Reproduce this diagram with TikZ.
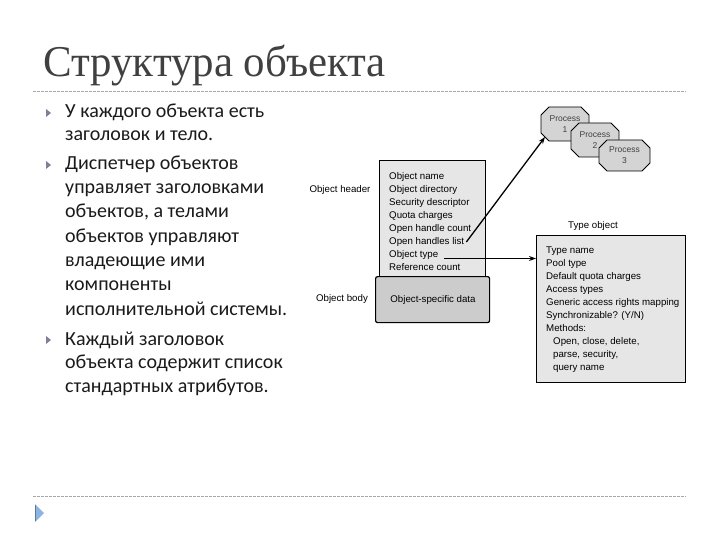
\documentclass[tikz,border=0pt]{standalone}
\usepackage{fontspec}
\setmainfont{Carlito}
\newfontfamily\titlefont{Liberation Serif}
\newfontfamily\diafont{Liberation Sans}
\usetikzlibrary{arrows.meta}
\definecolor{titlegray}{HTML}{404040}
\definecolor{textcol}{HTML}{1A1A1A}
\definecolor{rulecol}{HTML}{A6A6A6}
\definecolor{bulletcol}{HTML}{7F7F9A}
\definecolor{hdrfill}{HTML}{E6E6E6}
\definecolor{bodyfill}{HTML}{CCCCCC}
\definecolor{procfill}{HTML}{D4D4D4}
\definecolor{navlight}{HTML}{8DB3E2}
\definecolor{navdark}{HTML}{5F7893}
\tikzset{
  bline/.style={anchor=base west, inner sep=0pt, font=\fontsize{20}{24}\selectfont, text=textcol},
  dline/.style={anchor=base west, inner sep=0pt, font=\diafont\fontsize{9.7}{11}\selectfont, text=black},
  dlabel/.style={inner sep=0pt, font=\diafont\fontsize{9.7}{11}\selectfont, text=black},
  octa/.style={draw=black, line width=0.8pt, fill=procfill},
  proctext/.style={inner sep=0pt, align=center, font=\diafont\fontsize{8.5}{11}\selectfont, text=black!75},
  boxstyle/.style={draw=black, line width=1.2pt, anchor=north west, inner sep=0pt},
  rulestyle/.style={draw=rulecol, line width=0.8pt, dash pattern=on 3pt off 1pt},
  conn/.style={draw=black, line width=1.3pt, -{Stealth[length=7pt,width=5pt]}},
}
\begin{document}
\begin{tikzpicture}[x=1pt,y=-1pt]
\useasboundingbox (0,0) rectangle (720,540);

% title
\node[anchor=base west, inner sep=0pt, text=titlegray] (title) at (43,77)
  {\scalebox{0.975}[1]{\titlefont\fontsize{44}{50}\selectfont Структура объекта}};
\draw[rulestyle] (33,91) -- (686,91);
\draw[rulestyle] (33,496) -- (686,496);
\fill[navlight] (35,504) -- (44,513) -- (35,522) -- cycle;
\draw[navdark, line width=1pt] (35.5,505) -- (35.5,521);

% bullets
\fill[bulletcol] (46,109) -- (51,113) -- (46,117) -- cycle;
\fill[bulletcol] (46,161) -- (51,165) -- (46,169) -- cycle;
\fill[bulletcol] (46,336) -- (51,340) -- (46,344) -- cycle;

\node[bline] (b1a) at (65,118) {У каждого объекта есть};
\node[bline] (b1b) at (65,141) {заголовок и тело.};
\node[bline] (b2a) at (65,170) {Диспетчер объектов};
\node[bline] (b2b) at (65,194) {управляет заголовками};
\node[bline] (b2c) at (65,218) {объектов, а телами};
\node[bline] (b2d) at (65,242) {объектов управляют};
\node[bline] (b2e) at (65,266) {владеющие ими};
\node[bline] (b2f) at (65,290) {компоненты};
\node[bline] (b2g) at (65,315) {исполнительной системы.};
\node[bline] (b3a) at (65,345) {Каждый заголовок};
\node[bline] (b3b) at (65,368) {объекта содержит список};
\node[bline] (b3c) at (65,392) {стандартных атрибутов.};

% object header / body
\node[boxstyle, fill=hdrfill, minimum width=106pt, minimum height=117pt] (hdr) at (379,160) {};
\node[boxstyle, fill=bodyfill, rounded corners=2pt, minimum width=114pt, minimum height=46pt] (body) at (375,276) {};

\node[dline] (h1) at (389,179.5) {Object name};
\node[dline] (h2) at (389,192.5) {Object directory};
\node[dline] (h3) at (389,205.5) {Security descriptor};
\node[dline] (h4) at (389,218.5) {Quota charges};
\node[dline] (h5) at (389,231.5) {Open handle count};
\node[dline] (h6) at (389,244.5) {Open handles list};
\node[dline] (h7) at (389,257.5) {Object type};
\node[dline] (h8) at (389,270.5) {Reference count};
\node[dlabel] (osd) at (433,300) {Object-specific data};
\node[dlabel] (lhdr) at (340,190) {Object header};
\node[dlabel] (lbody) at (342,299) {Object body};

% type object
\node[boxstyle, fill=hdrfill, minimum width=149pt, minimum height=147pt] (tbox) at (536,235) {};
\node[dlabel] (tlabel) at (593,226) {Type object};
\node[dline] (t1) at (546,253.5) {Type name};
\node[dline] (t2) at (546,266.5) {Pool type};
\node[dline] (t3) at (546,279.5) {Default quota charges};
\node[dline] (t4) at (546,292.5) {Access types};
\node[dline] (t5) at (546,305.5) {Generic access rights mapping};
\node[dline] (t6) at (546,318.5) {Synchronizable? (Y/N)};
\node[dline] (t7) at (546,331.5) {Methods:};
\node[dline] (t8) at (553,344.5) {Open, close, delete,};
\node[dline] (t9) at (553,357.5) {parse, security,};
\node[dline] (t10) at (553,370.5) {query name};

% processes (octagons)
\draw[octa] (549,107) -- (581,107) -- (589,115) -- (589,133) -- (581,141) -- (549,141) -- (541,133) -- (541,115) -- cycle;
\coordinate (p1in) at (545,137);
\node[proctext] (p1) at (565,124) {Process\\1};
\draw[octa] (579,123) -- (611,123) -- (619,131) -- (619,149) -- (611,157) -- (579,157) -- (571,149) -- (571,131) -- cycle;
\node[proctext] (p2) at (595,140) {Process\\2};
\draw[octa] (607,140) -- (642,140) -- (650,148) -- (650,163) -- (642,171) -- (607,171) -- (599,163) -- (599,148) -- cycle;
\node[proctext] (p3) at (624.5,155.5) {Process\\3};

% connectors
\draw[conn] ([xshift=2pt]h6.east) -- (p1in);
\draw[conn] ([xshift=6pt,yshift=-3.5pt]h7.east) -- ([yshift=-3.5pt]h7.east -| tbox.west);
\end{tikzpicture}
\end{document}
